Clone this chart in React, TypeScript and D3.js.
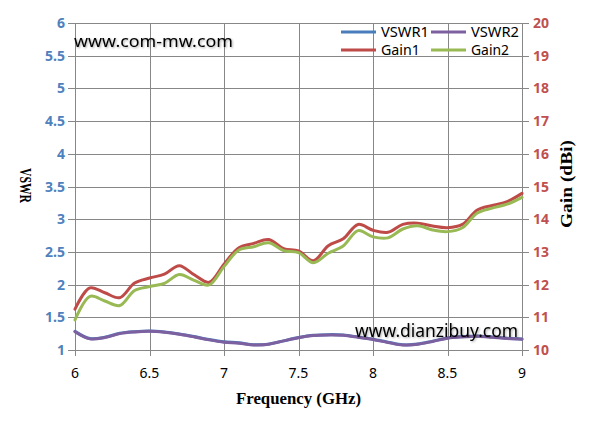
import React from "react";
import * as d3 from "d3";

const freq = [6.0, 6.1, 6.2, 6.3, 6.4, 6.5, 6.6, 6.7, 6.8, 6.9, 7.0, 7.1, 7.2, 7.3, 7.4, 7.5, 7.6, 7.7, 7.8, 7.9, 8.0, 8.1, 8.2, 8.3, 8.4, 8.5, 8.6, 8.7, 8.8, 8.9, 9.0];
const vswr1 = [1.285, 1.175, 1.195, 1.255, 1.28, 1.29, 1.275, 1.245, 1.205, 1.16, 1.125, 1.11, 1.08, 1.09, 1.14, 1.19, 1.225, 1.235, 1.23, 1.2, 1.165, 1.12, 1.08, 1.09, 1.135, 1.185, 1.205, 1.215, 1.2, 1.18, 1.17];
const vswr2 = [1.28, 1.17, 1.19, 1.25, 1.275, 1.285, 1.27, 1.24, 1.2, 1.155, 1.12, 1.105, 1.076, 1.088, 1.14, 1.188, 1.22, 1.23, 1.225, 1.195, 1.16, 1.115, 1.076, 1.088, 1.13, 1.18, 1.2, 1.21, 1.195, 1.175, 1.165];
const gain1 = [11.25, 11.9, 11.75, 11.6, 12.05, 12.2, 12.32, 12.58, 12.3, 12.07, 12.62, 13.13, 13.26, 13.38, 13.1, 13.03, 12.73, 13.19, 13.4, 13.84, 13.66, 13.6, 13.84, 13.88, 13.79, 13.74, 13.84, 14.28, 14.42, 14.54, 14.79];
const gain2 = [10.92, 11.64, 11.5, 11.36, 11.82, 11.94, 12.04, 12.31, 12.13, 11.99, 12.55, 13.06, 13.16, 13.28, 13.04, 12.98, 12.67, 12.96, 13.18, 13.65, 13.46, 13.43, 13.7, 13.8, 13.67, 13.62, 13.74, 14.19, 14.34, 14.46, 14.67];

const xTicks = [6, 6.5, 7, 7.5, 8, 8.5, 9];
const yLeftTicks = [1, 1.5, 2, 2.5, 3, 3.5, 4, 4.5, 5, 5.5, 6];
const yRightTicks = [10, 11, 12, 13, 14, 15, 16, 17, 18, 19, 20];

const COLORS = { vswr1: "#4A7EBB", vswr2: "#7D60A0", gain1: "#BE4B48", gain2: "#98B954" };
const GRID = "#878787";
const BODY_FONT = "'Noto Sans', 'Liberation Sans', sans-serif";
const SERIF_FONT = "'Liberation Serif', 'DejaVu Serif', serif";

export default function App() {
  const W = 595, H = 438;
  const x = d3.scaleLinear().domain([6, 9]).range([75, 522]);
  const yL = d3.scaleLinear().domain([1, 6]).range([350, 23]);
  const yR = d3.scaleLinear().domain([10, 20]).range([350, 23]);

  const mk = (vals: number[], y: d3.ScaleLinear<number, number>) =>
    d3
      .line<number>()
      .x((_, i) => x(freq[i]))
      .y((v) => y(v))
      .curve(d3.curveCatmullRom.alpha(0.5))(vals) || "";

  const series = [
    { name: "VSWR1", vals: vswr1, y: yL, color: COLORS.vswr1 },
    { name: "VSWR2", vals: vswr2, y: yL, color: COLORS.vswr2 },
    { name: "Gain1", vals: gain1, y: yR, color: COLORS.gain1 },
    { name: "Gain2", vals: gain2, y: yR, color: COLORS.gain2 },
  ];

  const legend = [
    { name: "VSWR1", color: COLORS.vswr1, lx: 341, ly: 32, tl: 48 },
    { name: "VSWR2", color: COLORS.vswr2, lx: 431, ly: 32, tl: 48 },
    { name: "Gain1", color: COLORS.gain1, lx: 341, ly: 50, tl: 39 },
    { name: "Gain2", color: COLORS.gain2, lx: 431, ly: 50, tl: 38 },
  ];

  return (
    <svg
      width={W}
      height={H}
      style={{ position: "absolute", left: 0, top: 0, background: "#fff" }}
    >
      <defs>
        <filter id="glow" x="-10%" y="-30%" width="120%" height="160%">
          <feGaussianBlur in="SourceAlpha" stdDeviation="1.2" />
          <feOffset dx="0.5" dy="0.8" result="b" />
          <feComponentTransfer>
            <feFuncA type="linear" slope="0.35" />
          </feComponentTransfer>
          <feMerge>
            <feMergeNode />
            <feMergeNode in="SourceGraphic" />
          </feMerge>
        </filter>
      </defs>
      <rect x={0} y={0} width={W} height={H} fill="#fff" />
      {/* grid */}
      {yLeftTicks.map((t) => (
        <line key={"h" + t} x1={68} x2={529} y1={Math.round(yL(t)) + 0.5} y2={Math.round(yL(t)) + 0.5} stroke={GRID} strokeWidth={1} />
      ))}
      {xTicks.map((t) => (
        <line key={"v" + t} x1={Math.round(x(t)) + 0.5} x2={Math.round(x(t)) + 0.5} y1={23} y2={356} stroke={GRID} strokeWidth={1} />
      ))}
      {/* series */}
      {series.map((s) => (
        <path key={s.name} d={mk(s.vals, s.y)} fill="none" stroke={s.color} strokeWidth={3} strokeLinejoin="round" strokeLinecap="round" />
      ))}
      {/* left ticks */}
      {yLeftTicks.map((t) => (
        <text key={"lt" + t} x={65} y={yL(t) + 5} textAnchor="end" fill="#4F81BD" fontWeight="bold" fontSize={14} fontFamily={BODY_FONT}>
          {String(t)}
        </text>
      ))}
      {/* right ticks */}
      {yRightTicks.map((t) => (
        <text key={"rt" + t} x={533} y={yR(t) + 5} textAnchor="start" fill="#C0504D" fontWeight="bold" fontSize={14} fontFamily={BODY_FONT}>
          {String(t)}
        </text>
      ))}
      {/* x ticks */}
      {xTicks.map((t) => (
        <text key={"xt" + t} x={x(t)} y={378} textAnchor="middle" fill="#000" fontSize={14} fontFamily={BODY_FONT}>
          {String(t)}
        </text>
      ))}
      {/* axis titles */}
      <text x={236} y={404} fontSize={16} fontWeight="bold" fontFamily={SERIF_FONT} fill="#000" textLength={125} lengthAdjust="spacingAndGlyphs">
        Frequency (GHz)
      </text>
      <text transform="translate(20,168) rotate(90)" fontSize={16} fontWeight="bold" fontFamily={SERIF_FONT} fill="#000" textLength={35} lengthAdjust="spacingAndGlyphs">
        VSWR
      </text>
      <text transform="translate(572,228) rotate(-90)" fontSize={16} fontWeight="bold" fontFamily={SERIF_FONT} fill="#000" textLength={88} lengthAdjust="spacingAndGlyphs">
        Gain (dBi)
      </text>
      {/* legend */}
      {legend.map((l) => (
        <g key={l.name}>
          <line x1={l.lx} x2={l.lx + 35} y1={l.ly} y2={l.ly} stroke={l.color} strokeWidth={3} />
          <text x={l.lx + 40} y={l.ly + 5} fontSize={14} fontFamily={BODY_FONT} fill="#000" textLength={l.tl} lengthAdjust="spacingAndGlyphs">
            {l.name}
          </text>
        </g>
      ))}
      {/* watermarks */}
      <text x={74} y={47} fontSize={17} fontFamily={BODY_FONT} fill="#000" textLength={159} lengthAdjust="spacingAndGlyphs" filter="url(#glow)">
        www.com-mw.com
      </text>
      <text x={355} y={337} fontSize={18} fontFamily={BODY_FONT} fill="#000" textLength={163} lengthAdjust="spacingAndGlyphs" filter="url(#glow)">
        www.dianzibuy.com
      </text>
    </svg>
  );
}
